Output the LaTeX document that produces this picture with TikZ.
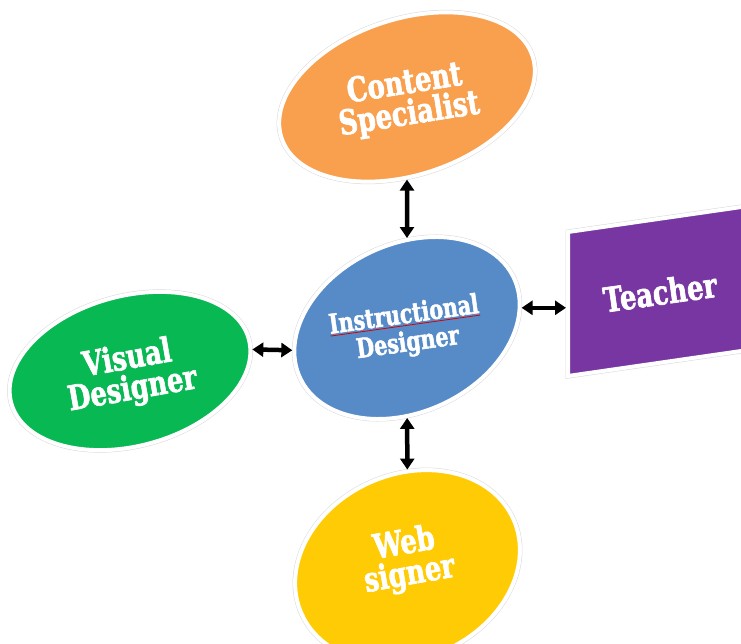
\documentclass[tikz,border=0pt]{standalone}
\usepackage{fontspec}
\newfontfamily\lblfont{DejaVu Serif}[FakeStretch=0.76,FakeBold=1.8]
\usetikzlibrary{arrows.meta,shapes.geometric,calc}

\definecolor{csorange}{HTML}{F9A04E}
\definecolor{idblue}{HTML}{568BC8}
\definecolor{tpurple}{HTML}{7836A2}
\definecolor{vdgreen}{HTML}{08B953}
\definecolor{wyellow}{HTML}{FFCB05}

\tikzset{
  blob/.style={ellipse, inner sep=0pt, draw=white, line width=4pt,
    preaction={draw=black!15, line width=5pt}},
  panel/.style={draw=white, line width=4pt, line join=miter,
    preaction={draw=black!15, line width=5pt}},
  lbl/.style={text=white, font=\lblfont\bfseries\fontsize{34}{31}\selectfont,
    align=center, inner sep=0pt},
  smalllbl/.style={lbl, font=\lblfont\bfseries\fontsize{27}{28}\selectfont},
  link/.style={line width=4.5pt,
    {Triangle[length=11pt,width=14pt]}-{Triangle[length=11pt,width=14pt]}},
}

\begin{document}
\begin{tikzpicture}[x=1pt,y=1pt]
  \clip (0,0) rectangle (741,643);
  \fill[white] (0,0) rectangle (741,643);

  % role shapes
  \node[blob, fill=csorange, minimum width=264pt, minimum height=156pt, rotate=18]
    (cs) at (407,546) {};
  \node[blob, fill=idblue, minimum width=236pt, minimum height=168pt, rotate=25]
    (id) at (407,315) {};
  \node[blob, fill=vdgreen, minimum width=246pt, minimum height=150pt, rotate=15]
    (vd) at (130,272) {};
  \node[blob, fill=wyellow, minimum width=232pt, minimum height=184pt, rotate=24]
    (web) at (407.5,76.5) {};
  \fill[tpurple, panel] (568,411) -- (760,438.7) -- (760,294.7) -- (568,267) -- cycle;
  \coordinate (teacher-w) at (566,339);

  % labels
  \node[lbl, rotate=9] (cs-txt) at (407,543) {Content\\Specialist};
  \node[smalllbl, rotate=8] (id-txt) at (406,313) {Instructional\\Designer};
  \draw[red!85!black, line width=0.8pt]
    ($(id-txt.north west)!23pt!(id-txt.south west)$) --
    ($(id-txt.north east)!23pt!(id-txt.south east)$);
  \node[lbl, rotate=8] (teacher) at (660,351) {Teacher};
  \node[lbl, rotate=10] (vd-txt) at (130,268) {Visual\\Designer};
  \node[lbl, rotate=10] (web-txt) at (407,83) {Web\\signer};

  % two-way links
  \draw[link] (cs) -- (id);
  \draw[link] (id) -- (web);
  \draw[link] (vd.-5) -- (id.166);
  \draw[link] (id.-15) -- (id.-15 -| teacher-w);
\end{tikzpicture}
\end{document}
